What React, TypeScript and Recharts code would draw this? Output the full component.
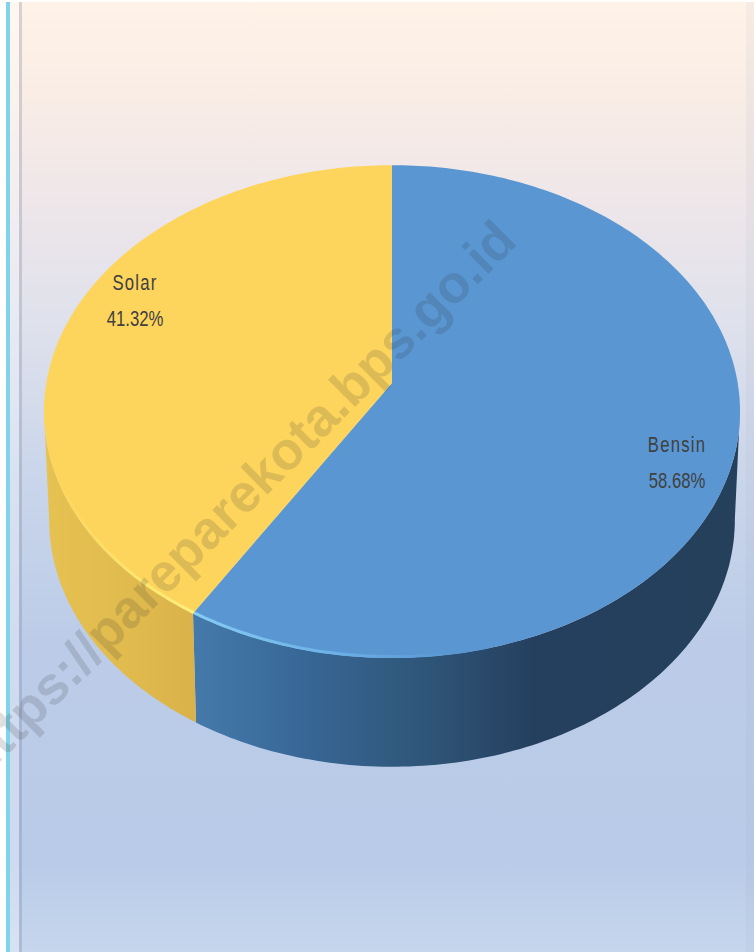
import { Pie, PieChart } from "recharts";

const fuelNames = ["Bensin", "Solar"];
const fuelShares = [58.68, 41.32];
const fuelColors = ["#5a97d2", "#fdd55c"];
const watermark = "https://pareparekota.bps.go.id";

const chartData = fuelNames.map((name, i) => ({
  name,
  value: fuelShares[i],
  fill: fuelColors[i],
}));

// the pie is tilted, so the circle goes through a perspective projection
const WIDTH_RATIO = 1.4226;
const TILT = 0.1156;
const DEPTH = 109;
const BASE_SHRINK = 0.985;

const project = (cx: number, cy: number, r: number, deg: number) => {
  const a = (deg * Math.PI) / 180;
  const w = 1 + TILT * Math.sin(a);
  return {
    x: cx + (r * WIDTH_RATIO * Math.cos(a)) / w,
    y: cy - (r * Math.sin(a)) / w,
  };
};

const arcPoints = (cx: number, cy: number, r: number, from: number, to: number) => {
  const pts = [];
  const steps = Math.max(2, Math.ceil(Math.abs(to - from)));
  for (let i = 0; i <= steps; i++) {
    pts.push(project(cx, cy, r, from + ((to - from) * i) / steps));
  }
  return pts;
};

const toPath = (pts: { x: number; y: number }[]) =>
  pts.map((p, i) => `${i ? "L" : "M"}${p.x.toFixed(1)} ${p.y.toFixed(1)}`).join(" ");

const Slice3D = (props: any) => {
  const { cx, cy, outerRadius, startAngle, endAngle, fill } = props;
  const isBlue = props.name === "Bensin";
  const top = arcPoints(cx, cy, outerRadius, startAngle, endAngle);

  // only the front part of the rim shows a wall, up to the widest point of the top face
  const wallTop = isBlue
    ? arcPoints(cx, cy, outerRadius, -6.6, endAngle)
    : arcPoints(cx, cy, outerRadius, startAngle, -173.4);
  const wallBottom = wallTop
    .map((p) => ({ x: cx + (p.x - cx) * BASE_SHRINK, y: p.y + DEPTH }))
    .reverse();

  const rim = isBlue
    ? arcPoints(cx, cy, outerRadius - 1, endAngle, -75)
    : arcPoints(cx, cy, outerRadius - 1, startAngle, -165);

  return (
    <g>
      <path
        d={toPath([...wallTop, ...wallBottom]) + " Z"}
        fill={isBlue ? "url(#wallBlue)" : "url(#wallYellow)"}
      />
      <path d={toPath([{ x: cx, y: cy }, ...top]) + " Z"} fill={fill} />
      <path
        d={toPath(rim)}
        fill="none"
        strokeWidth={3}
        stroke={isBlue ? "url(#rimBlue)" : "url(#rimYellow)"}
      />
    </g>
  );
};

const labelSpots: Record<string, { x: number; y: number }> = {
  Bensin: { x: 677, y: 452 },
  Solar: { x: 135, y: 290 },
};

const SliceLabel = (props: any) => {
  const spot = labelSpots[props.name];
  const textStyle = {
    fontFamily: "'Liberation Sans', sans-serif",
    fontSize: 22,
    fill: "#404040",
  };
  return (
    <g>
      <text
        transform={`translate(${spot.x} ${spot.y}) scale(0.76 1)`}
        textAnchor="middle"
        letterSpacing={1.6}
        style={textStyle}
      >
        {props.name}
      </text>
      <text
        transform={`translate(${spot.x} ${spot.y + 36}) scale(0.76 1)`}
        textAnchor="middle"
        style={textStyle}
      >
        {props.value.toFixed(2)}%
      </text>
    </g>
  );
};

export default function App() {
  return (
    <div
      style={{
        position: "absolute",
        left: 0,
        top: 0,
        width: 754,
        height: 952,
        overflow: "hidden",
        background: "#fff",
      }}
    >
      <div
        style={{
          position: "absolute",
          left: 6,
          top: 2,
          right: 0,
          bottom: 0,
          background:
            "linear-gradient(180deg, #fff3e8 0px, #f8ece5 100px, #eee6e9 200px, #dfe1ec 320px, #c9d5ea 480px, #bccce8 640px, #b9cbe8 860px, #c6d6ed 950px)",
        }}
      />
      <div style={{ position: "absolute", left: 6, top: 2, bottom: 0, width: 4, background: "#7fd3ea" }} />
      <div style={{ position: "absolute", left: 10, top: 2, bottom: 0, width: 9, background: "rgba(255,255,255,0.3)" }} />
      <div style={{ position: "absolute", left: 19, top: 2, bottom: 0, width: 3, background: "rgba(120,130,160,0.3)" }} />
      <div style={{ position: "absolute", right: 0, top: 2, bottom: 0, width: 8, background: "rgba(140,150,180,0.08)" }} />

      <div style={{ position: "absolute", left: 0, top: 0 }}>
        <PieChart width={754} height={952} margin={{ top: 0, right: 0, bottom: 0, left: 0 }}>
          <defs>
            <linearGradient id="wallBlue" gradientUnits="userSpaceOnUse" x1="193" y1="0" x2="740" y2="0">
              <stop offset="0" stopColor="#447aab" />
              <stop offset="0.2" stopColor="#386796" />
              <stop offset="0.42" stopColor="#2f5679" />
              <stop offset="0.62" stopColor="#25405f" />
              <stop offset="1" stopColor="#24405a" />
            </linearGradient>
            <linearGradient id="wallYellow" gradientUnits="userSpaceOnUse" x1="44" y1="0" x2="193" y2="0">
              <stop offset="0" stopColor="#e6c252" />
              <stop offset="0.6" stopColor="#e0ba4d" />
              <stop offset="1" stopColor="#d9b34a" />
            </linearGradient>
            <linearGradient id="rimBlue" gradientUnits="userSpaceOnUse" x1="193" y1="0" x2="450" y2="0">
              <stop offset="0" stopColor="#84cdf4" />
              <stop offset="0.55" stopColor="#6cb0e6" />
              <stop offset="1" stopColor="#5a97d2" />
            </linearGradient>
            <linearGradient id="rimYellow" gradientUnits="userSpaceOnUse" x1="60" y1="0" x2="193" y2="0">
              <stop offset="0" stopColor="#fdd55c" />
              <stop offset="1" stopColor="#fff07a" />
            </linearGradient>
          </defs>
          <Pie
            data={chartData}
            dataKey="value"
            nameKey="name"
            cx={392}
            cy={383}
            outerRadius={243}
            startAngle={90}
            endAngle={-270}
            stroke="none"
            shape={Slice3D}
            label={SliceLabel}
            labelLine={false}
            isAnimationActive={false}
          />
        </PieChart>
      </div>

      <svg width={754} height={952} style={{ position: "absolute", left: 0, top: 0, pointerEvents: "none" }}>
        <text
          transform="translate(519 243) rotate(-45)"
          textAnchor="end"
          fontFamily="'Liberation Sans', Arial, sans-serif"
          fontWeight="bold"
          fontSize={53}
          fill="rgba(48,48,48,0.16)"
        >
          {watermark}
        </text>
      </svg>
    </div>
  );
}
